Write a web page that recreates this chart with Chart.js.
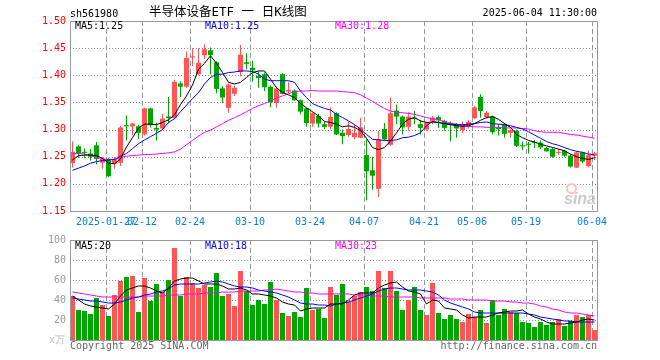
<!DOCTYPE html>
<html>
<head>
<meta charset="utf-8">
<script src="https://cdn.jsdelivr.net/npm/chart.js@4.4.1/dist/chart.umd.min.js"></script>
<style>
  body { margin: 0; background: #fff; }
  #wrap { position: relative; width: 660px; height: 360px; overflow: hidden; background: #fff; }
  #wrap canvas { position: absolute; left: 0; }
  .t { position: absolute; white-space: nowrap; font-family: "DejaVu Sans Mono", monospace; font-size: 10px; line-height: 12px; }
  .eye { position: absolute; left: 566px; top: 183px; width: 7px; height: 7px; border: 2px solid #f5c4c4; border-radius: 50%; }
</style>
</head>
<body>
<div id="wrap">
  <canvas id="kline" width="660" height="230" style="top:0"></canvas>
  <canvas id="volume" width="660" height="130" style="top:230px"></canvas>

  <span class="t" style="left:70px;top:8px;color:#000">sh561980</span>
  <span class="t" style="left:149px;top:5px;font-size:12.5px;line-height:14px;font-family:'DejaVu Sans Mono','Noto Sans CJK SC',sans-serif;color:#000">半导体设备ETF 一 日K线图</span>
  <span class="t" style="right:63px;top:7px;color:#000">2025-06-04 11:30:00</span>

  <span class="t" style="left:75px;top:20px;color:#000">MA5:1.25</span>
  <span class="t" style="left:205px;top:20px;color:#00f">MA10:1.25</span>
  <span class="t" style="left:335px;top:20px;color:#f0f">MA30:1.28</span>

  <div class="eye"></div>
  <span class="t" style="left:564px;top:190px;font-family:'Liberation Sans',sans-serif;font-size:16px;line-height:18px;font-weight:bold;font-style:italic;color:#ccc">sina</span>

  <span class="t" style="left:75px;top:240px;color:#000">MA5:20</span>
  <span class="t" style="left:205px;top:240px;color:#00f">MA10:18</span>
  <span class="t" style="left:335px;top:240px;color:#f0f">MA30:23</span>

  <span class="t" style="left:49px;top:334px;color:#bbb">x万</span>
  <span class="t" style="left:70px;top:340px;color:#666">Copyright 2025 SINA.COM</span>
  <span class="t" style="right:63px;top:340px;color:#666">http://finance.sina.com.cn</span>
</div>

<script>
// date ticks (index of the trading day in the series)
var xLabels = ['2025-01-27', '02-12', '02-24', '03-10', '03-24', '04-07', '04-21', '05-06', '05-19', '06-04'];
var xLabelIdx = [6, 12, 20, 30, 40, 49, 59, 67, 76, 87];
var priceTicks = [1.15, 1.20, 1.25, 1.30, 1.35, 1.40, 1.45, 1.50];
var volTicks = [0, 20, 40, 60, 80, 100];

var openP = [1.238, 1.269, 1.259, 1.256, 1.271, 1.239, 1.246, 1.237, 1.239, 1.308,
  1.306, 1.306, 1.291, 1.339, 1.303, 1.302, 1.324, 1.321, 1.385, 1.379,
  1.433, 1.402, 1.437, 1.446, 1.424, 1.376, 1.340, 1.366, 1.406, 1.424,
  1.414, 1.399, 1.402, 1.379, 1.349, 1.402, 1.370, 1.372, 1.354, 1.339,
  1.311, 1.325, 1.310, 1.305, 1.330, 1.294, 1.290, 1.286, 1.285, 1.253,
  1.225, 1.191, 1.301, 1.272, 1.335, 1.324, 1.305, 1.322, 1.310, 1.300,
  1.316, 1.323, 1.316, 1.311, 1.309, 1.299, 1.307, 1.321, 1.360, 1.323,
  1.324, 1.304, 1.310, 1.294, 1.298, 1.271, 1.274, 1.277, 1.276, 1.266,
  1.264, 1.257, 1.261, 1.252, 1.230, 1.258, 1.233, 1.252];
var highP = [1.278, 1.272, 1.265, 1.264, 1.277, 1.249, 1.248, 1.249, 1.307, 1.326,
  1.312, 1.309, 1.340, 1.340, 1.313, 1.329, 1.360, 1.392, 1.389, 1.444,
  1.450, 1.450, 1.457, 1.451, 1.426, 1.380, 1.385, 1.381, 1.456, 1.441,
  1.427, 1.408, 1.405, 1.381, 1.380, 1.404, 1.387, 1.374, 1.356, 1.341,
  1.332, 1.329, 1.314, 1.341, 1.332, 1.300, 1.315, 1.310, 1.322, 1.282,
  1.250, 1.298, 1.312, 1.359, 1.346, 1.326, 1.332, 1.334, 1.318, 1.315,
  1.325, 1.326, 1.318, 1.315, 1.312, 1.315, 1.318, 1.343, 1.365, 1.334,
  1.326, 1.310, 1.312, 1.300, 1.300, 1.278, 1.277, 1.281, 1.280, 1.268,
  1.266, 1.264, 1.263, 1.254, 1.260, 1.259, 1.261, 1.259];
var lowP = [1.230, 1.248, 1.247, 1.243, 1.236, 1.228, 1.212, 1.228, 1.233, 1.280,
  1.290, 1.283, 1.289, 1.304, 1.280, 1.300, 1.311, 1.319, 1.360, 1.377,
  1.417, 1.400, 1.430, 1.402, 1.367, 1.349, 1.331, 1.362, 1.398, 1.411,
  1.388, 1.377, 1.371, 1.341, 1.340, 1.365, 1.367, 1.353, 1.328, 1.305,
  1.305, 1.304, 1.301, 1.300, 1.290, 1.273, 1.287, 1.282, 1.284, 1.170,
  1.189, 1.176, 1.280, 1.270, 1.310, 1.291, 1.298, 1.310, 1.291, 1.298,
  1.310, 1.303, 1.298, 1.278, 1.285, 1.293, 1.302, 1.319, 1.322, 1.320,
  1.291, 1.289, 1.285, 1.285, 1.268, 1.262, 1.256, 1.266, 1.264, 1.259,
  1.248, 1.253, 1.250, 1.230, 1.229, 1.238, 1.230, 1.244];
var closeP = [1.259, 1.256, 1.257, 1.250, 1.246, 1.246, 1.214, 1.245, 1.304, 1.306,
  1.311, 1.294, 1.339, 1.308, 1.300, 1.320, 1.321, 1.388, 1.379, 1.432,
  1.435, 1.423, 1.448, 1.437, 1.375, 1.359, 1.383, 1.377, 1.438, 1.421,
  1.409, 1.395, 1.378, 1.350, 1.376, 1.366, 1.373, 1.354, 1.333, 1.312,
  1.330, 1.311, 1.305, 1.323, 1.291, 1.288, 1.301, 1.294, 1.304, 1.223,
  1.215, 1.282, 1.282, 1.330, 1.324, 1.304, 1.324, 1.320, 1.303, 1.313,
  1.322, 1.317, 1.303, 1.309, 1.302, 1.308, 1.314, 1.341, 1.334, 1.331,
  1.295, 1.301, 1.292, 1.299, 1.270, 1.269, 1.272, 1.275, 1.267, 1.260,
  1.250, 1.259, 1.252, 1.232, 1.258, 1.241, 1.253, 1.256];

var ma5 = [1.244, 1.252, 1.253, 1.253, 1.252, 1.247, 1.238, 1.237, 1.246, 1.268,
  1.285, 1.303, 1.310, 1.310, 1.309, 1.313, 1.318, 1.327, 1.346, 1.362,
  1.382, 1.411, 1.422, 1.436, 1.422, 1.405, 1.387, 1.384, 1.387, 1.396,
  1.405, 1.408, 1.408, 1.393, 1.377, 1.368, 1.364, 1.359, 1.348, 1.340,
  1.333, 1.325, 1.315, 1.313, 1.310, 1.305, 1.307, 1.304, 1.298, 1.284,
  1.267, 1.263, 1.267, 1.279, 1.294, 1.310, 1.319, 1.322, 1.316, 1.313,
  1.314, 1.313, 1.311, 1.309, 1.307, 1.306, 1.307, 1.311, 1.317, 1.322,
  1.324, 1.319, 1.311, 1.304, 1.291, 1.285, 1.280, 1.277, 1.273, 1.270,
  1.267, 1.264, 1.261, 1.255, 1.250, 1.247, 1.245, 1.248];
var ma10 = [1.225, 1.229, 1.233, 1.238, 1.241, 1.243, 1.244, 1.245, 1.251, 1.256,
  1.265, 1.274, 1.281, 1.287, 1.293, 1.300, 1.313, 1.320, 1.333, 1.345,
  1.357, 1.368, 1.384, 1.396, 1.402, 1.402, 1.405, 1.406, 1.408, 1.408,
  1.407, 1.402, 1.393, 1.390, 1.390, 1.390, 1.390, 1.387, 1.371, 1.359,
  1.348, 1.343, 1.339, 1.336, 1.328, 1.322, 1.316, 1.309, 1.301, 1.291,
  1.282, 1.281, 1.280, 1.280, 1.281, 1.285, 1.286, 1.289, 1.294, 1.307,
  1.315, 1.313, 1.311, 1.310, 1.309, 1.309, 1.310, 1.311, 1.313, 1.314,
  1.311, 1.310, 1.309, 1.307, 1.304, 1.301, 1.296, 1.290, 1.284, 1.278,
  1.274, 1.271, 1.267, 1.263, 1.260, 1.258, 1.255, 1.253];
var ma30 = [1.256, 1.256, 1.255, 1.252, 1.249, 1.246, 1.245, 1.245, 1.249, 1.251,
  1.252, 1.253, 1.254, 1.254, 1.255, 1.256, 1.257, 1.259, 1.264, 1.272,
  1.280, 1.288, 1.295, 1.299, 1.305, 1.311, 1.317, 1.322, 1.327, 1.333,
  1.339, 1.344, 1.348, 1.353, 1.358, 1.362, 1.366, 1.370, 1.371, 1.371,
  1.372, 1.371, 1.371, 1.371, 1.371, 1.370, 1.369, 1.368, 1.364, 1.358,
  1.352, 1.345, 1.339, 1.334, 1.332, 1.331, 1.330, 1.328, 1.325, 1.322,
  1.320, 1.318, 1.315, 1.312, 1.310, 1.308, 1.306, 1.305, 1.305, 1.304,
  1.304, 1.304, 1.303, 1.303, 1.303, 1.302, 1.301, 1.298, 1.296, 1.295,
  1.295, 1.295, 1.293, 1.291, 1.290, 1.288, 1.286, 1.284];

// volume, in 万
var vol = [44, 30, 29, 26, 42, 35, 24, 45, 59, 63,
  64, 28, 62, 39, 56, 48, 60, 92, 44, 63,
  57, 52, 55, 53, 67, 44, 46, 34, 69, 49,
  35, 40, 36, 58, 40, 27, 24, 28, 23, 52,
  30, 31, 22, 53, 45, 56, 38, 44, 48, 53,
  49, 69, 52, 69, 49, 30, 40, 53, 30, 25,
  57, 27, 21, 25, 21, 18, 26, 23, 30, 17,
  40, 25, 31, 28, 27, 18, 17, 13, 18, 15,
  18, 21, 14, 19, 25, 23, 25, 10];
var vma5 = [44, 40, 36, 34, 33, 32, 31, 36, 44, 50,
  52, 54, 54, 52, 49, 47, 52, 59, 61, 62,
  62, 59, 56, 56, 56, 54, 51, 51, 52, 50,
  46, 46, 45, 44, 42, 38, 36, 35, 29, 31,
  32, 32, 32, 36, 36, 36, 40, 45, 47, 47,
  47, 52, 55, 57, 58, 53, 49, 48, 46, 36,
  40, 39, 32, 31, 30, 25, 22, 23, 23, 23,
  25, 27, 28, 29, 29, 30, 26, 23, 21, 18,
  16, 16, 16, 17, 18, 20, 21, 20];
var vma10 = [42, 41, 40, 39, 39, 38, 37, 37, 38, 40,
  42, 43, 45, 46, 48, 49, 51, 55, 56, 56,
  56, 56, 57, 58, 59, 58, 56, 54, 53, 53,
  52, 50, 49, 48, 47, 45, 43, 40, 37, 36,
  36, 35, 35, 34, 36, 37, 38, 40, 42, 44,
  46, 49, 51, 52, 52, 51, 50, 50, 50, 49,
  48, 45, 40, 37, 35, 33, 31, 28, 27, 27,
  27, 27, 27, 27, 27, 27, 26, 25, 23, 22,
  21, 20, 19, 19, 18, 18, 18, 18];
var vma30 = [48, 47, 46, 45, 44, 43, 43, 43, 43, 43,
  43, 43, 44, 44, 44, 44, 45, 45, 45, 46,
  46, 46, 47, 47, 47, 48, 48, 48, 49, 49,
  49, 49, 50, 50, 51, 50, 49, 48, 48, 47,
  47, 46, 46, 46, 46, 46, 46, 45, 45, 45,
  44, 44, 44, 43, 43, 43, 43, 43, 42, 42,
  42, 42, 42, 41, 41, 41, 40, 40, 40, 40,
  39, 39, 39, 38, 38, 37, 37, 36, 34, 33,
  31, 30, 28, 27, 27, 26, 25, 24];

var mono = '"DejaVu Sans Mono", monospace';
var upColor = '#ff5555';
var downColor = '#00a600';
var gridShift = 0.4167;

var candleColors = closeP.map(function (c, i) {
  return c >= openP[i] ? upColor : downColor;
});

function pts(arr) {
  return arr.map(function (v, i) { return {x: i, y: v}; });
}

function maLine(arr, color) {
  return {
    type: 'line',
    data: pts(arr),
    borderColor: color,
    borderWidth: 1,
    pointRadius: 0,
    tension: 0,
    order: 0
  };
}

// 6px per trading day, first candle centred 2.5px inside the frame
function xAxis(showLabels) {
  return {
    type: 'linear',
    min: -gridShift,
    max: 88 - gridShift,
    offset: false,
    afterBuildTicks: function (scale) {
      scale.ticks = xLabelIdx.map(function (i) { return {value: i - gridShift}; });
    },
    afterFit: function (scale) {
      scale.height = showLabels ? 19 : 0;
    },
    grid: {display: false, drawTicks: false, offset: false},
    border: {display: false},
    ticks: {
      display: showLabels,
      autoSkip: false,
      maxRotation: 0,
      padding: 5,
      color: '#0a80d8',
      font: {family: mono, size: 10},
      callback: function (v, i) { return xLabels[i]; }
    }
  };
}

// dotted horizontals, dashed verticals, then the grey frame on top
var gridPlugin = {
  id: 'sinaGrid',
  beforeDatasetsDraw: function (chart) {
    var a = chart.chartArea;
    var ctx = chart.ctx;
    var xs = chart.scales.x;
    var ys = chart.scales.y;
    ctx.save();
    ctx.lineWidth = 1;
    ctx.strokeStyle = '#8c8c8c';
    ctx.setLineDash([1, 2]);
    ys.ticks.forEach(function (t) {
      var y = Math.round(ys.getPixelForValue(t.value)) + 0.5;
      ctx.beginPath();
      ctx.moveTo(a.left, y);
      ctx.lineTo(a.right, y);
      ctx.stroke();
    });
    ctx.strokeStyle = '#999';
    ctx.setLineDash([5, 3]);
    xs.ticks.forEach(function (t) {
      var x = Math.round(xs.getPixelForValue(t.value)) + 0.5;
      ctx.beginPath();
      ctx.moveTo(x, a.top);
      ctx.lineTo(x, a.bottom);
      ctx.stroke();
    });
    ctx.restore();
  },
  afterDraw: function (chart) {
    var a = chart.chartArea;
    var ctx = chart.ctx;
    ctx.save();
    ctx.strokeStyle = '#999';
    ctx.lineWidth = 1;
    ctx.strokeRect(a.left + 0.5, a.top + 0.5, a.right - a.left - 1, a.bottom - a.top);
    ctx.restore();
  }
};

function printKline() {

  var ctx = document.getElementById('kline');
  new Chart(ctx, {
    type: 'bar',
    data: {
      datasets: [
        maLine(ma5, '#000'),
        maLine(ma10, '#00f'),
        maLine(ma30, '#f0f'),
        {
          data: openP.map(function (o, i) { return {x: i, y: [o, closeP[i]]}; }),
          backgroundColor: candleColors,
          barThickness: 5,
          minBarLength: 1,
          inflateAmount: 0,
          grouped: false,
          order: 1
        },
        {
          data: lowP.map(function (l, i) { return {x: i, y: [l, highP[i]]}; }),
          backgroundColor: candleColors,
          barThickness: 1,
          inflateAmount: 0,
          grouped: false,
          order: 2
        }
      ]
    },
    options: {
      responsive: false,
      animation: false,
      layout: {padding: {top: 21, right: 62, bottom: 0, left: 0}},
      plugins: {legend: {display: false}, tooltip: {enabled: false}},
      scales: {
        x: xAxis(true),
        y: {
          min: 1.15,
          max: 1.50,
          afterBuildTicks: function (scale) {
            scale.ticks = priceTicks.map(function (v) { return {value: v}; });
          },
          afterFit: function (scale) { scale.width = 70; },
          grid: {display: false, drawTicks: false},
          border: {display: false},
          ticks: {
            color: '#f00',
            padding: 4,
            font: {family: mono, size: 10},
            callback: function (v) { return v.toFixed(2); }
          }
        }
      }
    },
    plugins: [gridPlugin]
  });
}

function printVolume() {

  var ctx = document.getElementById('volume');
  new Chart(ctx, {
    type: 'bar',
    data: {
      datasets: [
        maLine(vma5, '#000'),
        maLine(vma10, '#00f'),
        maLine(vma30, '#f0f'),
        {
          data: pts(vol),
          backgroundColor: candleColors,
          barThickness: 5,
          inflateAmount: 0,
          grouped: false,
          order: 1
        }
      ]
    },
    options: {
      responsive: false,
      animation: false,
      layout: {padding: {top: 10, right: 62, bottom: 20, left: 0}},
      plugins: {legend: {display: false}, tooltip: {enabled: false}},
      scales: {
        x: xAxis(false),
        y: {
          min: 0,
          max: 100,
          afterBuildTicks: function (scale) {
            scale.ticks = volTicks.map(function (v) { return {value: v}; });
          },
          afterFit: function (scale) { scale.width = 70; },
          grid: {display: false, drawTicks: false},
          border: {display: false},
          ticks: {
            color: '#999',
            padding: 4,
            font: {family: mono, size: 10},
            callback: function (v) { return v === 0 ? '' : String(v); }
          }
        }
      }
    },
    plugins: [gridPlugin]
  });
}

printKline();
printVolume();
</script>
</body>
</html>
